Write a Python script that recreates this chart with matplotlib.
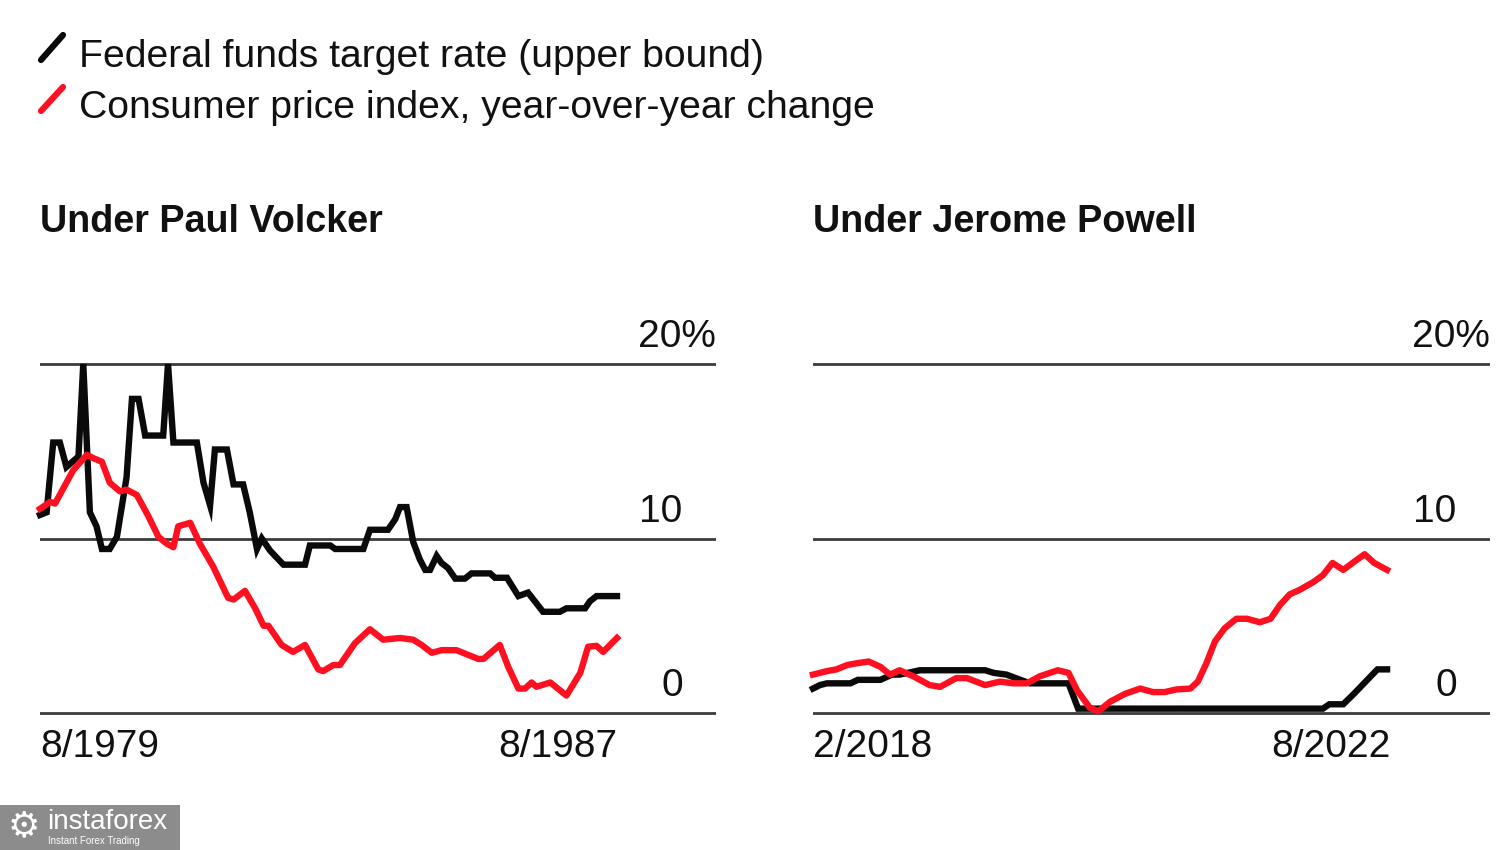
import matplotlib

matplotlib.use("Agg")
import matplotlib.pyplot as plt
from matplotlib.lines import Line2D
from matplotlib.patches import Rectangle
import matplotlib.transforms as mtransforms

plt.rcParams["font.family"] = ["Liberation Sans", "DejaVu Sans"]

# months since 8/1979
volcker_ff_month = [0, 1.1, 2.2, 3.3, 4.4, 6.4, 7.2, 8.3, 9.4, 10.3, 11.6, 12.8, 14.4, 15.3, 16.4,
                    17.5, 20.5, 21.3, 22.2, 26.1, 27.2, 28.3, 29.1, 31.1, 32.2, 33.8, 34.9, 36.1,
                    36.9, 38.3, 40.5, 44.1, 44.9, 48.3, 49.1, 53.8, 54.9, 57.9, 59.1, 59.9, 61.0,
                    62.1, 63.2, 64.1, 64.9, 66.0, 66.8, 67.9, 69.1, 70.7, 71.8, 74.9, 75.7, 77.7,
                    79.6, 81.2, 83.7, 86.5, 87.6, 90.7, 91.5, 92.6, 96.0]
volcker_ff = [11.35, 11.5, 15.5, 15.5, 14.1, 14.7, 20.0, 11.5, 10.7, 9.4, 9.4, 10.1, 13.5, 18.0, 18.0,
              15.9, 15.9, 20.0, 15.5, 15.5, 13.2, 11.9, 15.1, 15.1, 13.1, 13.1, 11.5, 9.4,
              10.0, 9.3, 8.5, 8.5, 9.6, 9.6, 9.4, 9.4, 10.5, 10.5, 11.1, 11.8, 11.8,
              9.8, 8.8, 8.2, 8.2, 9.0, 8.6, 8.3, 7.7, 7.7, 8.0, 8.0, 7.75, 7.75,
              6.7, 6.9, 5.8, 5.8, 6.0, 6.0, 6.4, 6.7, 6.7]

volcker_cpi_month = [0, 1.7, 2.5, 5.5, 7.8, 8.9, 10.3, 11.6, 13.3, 14.4, 16.1, 18.0, 19.7, 21.1,
                     22.2, 23.0, 25.0, 26.6, 28.8, 31.3, 32.2, 34.1, 35.8, 37.2, 38.0, 40.2,
                     42.1, 44.1, 46.3, 47.1, 48.8, 49.9, 52.4, 54.9, 57.1, 59.9, 62.1, 63.5,
                     65.2, 66.8, 69.3, 72.9, 73.8, 76.5, 77.9, 79.6, 80.7, 81.8, 82.6, 84.9,
                     87.6, 89.9, 91.2, 92.6, 93.7, 96.0]
volcker_cpi = [11.7, 12.1, 12.0, 13.9, 14.8, 14.6, 14.4, 13.2, 12.7, 12.8, 12.5, 11.3, 10.1, 9.7,
               9.5, 10.7, 10.9, 9.7, 8.4, 6.6, 6.5, 7.0, 6.0, 5.0, 5.0, 3.9,
               3.5, 3.9, 2.5, 2.4, 2.75, 2.75, 4.0, 4.8, 4.2, 4.3, 4.2, 3.9,
               3.45, 3.6, 3.6, 3.1, 3.1, 3.9, 2.65, 1.4, 1.4, 1.75, 1.5, 1.75,
               1.0, 2.3, 3.8, 3.85, 3.5, 4.3]

# months since 2/2018
powell_ff_month = [0, 0.65, 1.3, 3.5, 4.2, 6.3, 7.4, 8.1, 10.0, 16.1, 16.9, 18.1, 19.4, 20.3,
                   23.9, 24.8, 47.7, 48.3, 49.6, 50.6, 52.8, 53.7]
powell_ff = [1.4, 1.6, 1.7, 1.7, 1.9, 1.9, 2.2, 2.2, 2.45, 2.45, 2.3, 2.2, 1.9, 1.7,
             1.7, 0.25, 0.25, 0.5, 0.5, 1.1, 2.5, 2.5]

powell_cpi_month = [0, 1.3, 2.2, 3.2, 4.1, 5.2, 6.3, 7.2, 8.1, 9.4, 10.9, 11.9, 12.5, 13.4, 14.4,
                    16.1, 17.5, 18.7, 20.0, 21.2, 22.9, 23.9, 24.7, 25.9, 26.7, 27.8, 29.2,
                    30.6, 31.8, 32.9, 34.0, 35.3, 36.0, 36.8, 37.6, 38.5, 39.6, 40.6, 41.8,
                    42.8, 43.7, 44.6, 45.5, 46.8, 47.7, 48.6, 49.6, 50.7, 51.6, 52.5, 53.7]
powell_cpi = [2.2, 2.4, 2.5, 2.75, 2.85, 2.95, 2.65, 2.2, 2.45, 2.1, 1.6, 1.5, 1.7, 2.0, 2.0,
              1.6, 1.8, 1.7, 1.7, 2.1, 2.45, 2.3, 1.3, 0.3, 0.1, 0.65, 1.1,
              1.4, 1.2, 1.2, 1.35, 1.4, 1.8, 2.85, 4.1, 4.85, 5.4, 5.4, 5.2,
              5.4, 6.2, 6.8, 7.05, 7.5, 7.9, 8.6, 8.2, 8.7, 9.1, 8.6, 8.2]

grid_values = [0, 10, 20]
grid_labels = ["0", "10", "20%"]

BLACK = "#0a0a0a"
RED = "#ff1020"
GRID = "#3c3c3c"
W, H = 1500, 850


def fx(px):
    return px / W


def fy(py):
    return 1 - py / H


def panel(fig, rect, title, ff_x, ff_y, cpi_x, cpi_y, span, xmax, xlabels):
    ax = fig.add_axes(rect)
    ax.set_xlim(0, xmax)
    ax.set_ylim(-0.5, 21)
    ax.axis("off")
    for v in grid_values:
        ax.axhline(v, color=GRID, lw=2, zorder=1)
    ax.plot(ff_x, ff_y, color=BLACK, lw=4.6, solid_joinstyle="miter", zorder=3, clip_on=False)
    ax.plot(cpi_x, cpi_y, color=RED, lw=4.6, solid_joinstyle="round", zorder=4, clip_on=False)

    trans = mtransforms.blended_transform_factory(ax.transAxes, ax.transData)
    for v, lab in zip(grid_values, grid_labels):
        dx = 0 if lab.endswith("%") else -24
        ax.annotate(lab, xy=(1, v), xycoords=trans, xytext=(dx, 12), textcoords="offset points",
                    ha="right", va="baseline", fontsize=28, color="#111111")
    ax.annotate(xlabels[0], xy=(0, 0), xytext=(0, -32), textcoords="offset points",
                ha="left", va="baseline", fontsize=28, color="#111111")
    ax.annotate(xlabels[1], xy=(span, 0), xytext=(0, -32), textcoords="offset points",
                ha="right", va="baseline", fontsize=28, color="#111111")
    fig.text(rect[0], fy(232), title, fontsize=27.2, fontweight="bold", ha="left", va="baseline",
             color="#111111")
    return ax


fig = plt.figure(figsize=(15, 8.5), dpi=100)

y_bottom = fy(713) - 0.5 * (fy(364) - fy(713)) / 20
y_height = 21.5 * (fy(364) - fy(713)) / 20

panel(fig, [fx(40), y_bottom, fx(676), y_height], "Under Paul Volcker",
      volcker_ff_month, volcker_ff, volcker_cpi_month, volcker_cpi,
      96, 676 / 6.01, ["8/1979", "8/1987"])
panel(fig, [fx(813), y_bottom, fx(677), y_height], "Under Jerome Powell",
      powell_ff_month, powell_ff, powell_cpi_month, powell_cpi,
      54, 677 / 10.69, ["2/2018", "8/2022"])

# legend
for (y0, y1), color in [((60, 35), BLACK), ((111, 87), RED)]:
    fig.add_artist(Line2D([fx(41), fx(63)], [fy(y0), fy(y1)], color=color, lw=4.5,
                          solid_capstyle="round", transform=fig.transFigure))
fig.text(fx(79), fy(67), "Federal funds target rate (upper bound)", fontsize=28.2,
         ha="left", va="baseline", color="#111111")
fig.text(fx(79), fy(118), "Consumer price index, year-over-year change", fontsize=28.2,
         ha="left", va="baseline", color="#111111")

# watermark
fig.add_artist(Rectangle((0, 0), fx(180), fy(805), transform=fig.transFigure,
                         facecolor="#8c8c8c", edgecolor="none"))
fig.text(fx(24), fy(826), "\u2699", fontsize=26, color="white", ha="center", va="center",
         family="DejaVu Sans")
fig.text(fx(47), fy(829), "instaforex", fontsize=20, color="white", ha="left", va="baseline")
fig.text(fx(48), fy(836.5), "Instant Forex Trading", fontsize=7, color="white", ha="left",
         va="top")

fig.savefig("out.png", dpi=100, facecolor="white")
